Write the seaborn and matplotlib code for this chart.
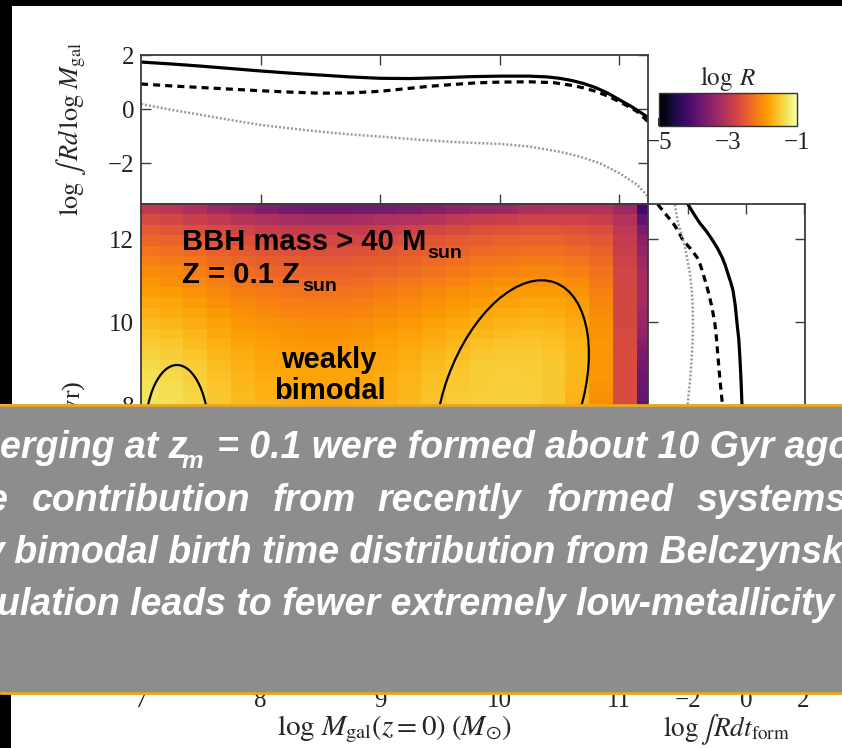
import numpy as np
import matplotlib
matplotlib.use("Agg")
import matplotlib.pyplot as plt
import seaborn as sns
from matplotlib.patches import Rectangle, Ellipse

# ---------------- data ----------------
mass_centers = [7.05, 7.25, 7.45, 7.65, 7.85, 8.05, 8.25, 8.45, 8.65, 8.85, 9.05,
                9.25, 9.45, 9.65, 9.85, 10.05, 10.25, 10.45, 10.65, 10.85, 11.05, 11.25]
tform_centers = [12.725, 12.475, 12.225, 11.975, 11.725, 11.475, 11.225, 10.975, 10.725,
                 10.475, 10.225, 9.975, 9.725, 9.475, 9.225, 8.975, 8.725, 8.475, 8.225,
                 7.975, 7.725]
logR = [
    [-2.95, -3.0, -3.15, -3.3, -3.45, -3.6, -3.7, -3.75, -3.75, -3.75, -3.7, -3.65, -3.55, -3.45, -3.35, -3.3, -3.2, -3.15, -3.1, -3.1, -3.3, -4.2],
    [-2.7, -2.75, -2.85, -2.95, -3.05, -3.15, -3.2, -3.25, -3.25, -3.2, -3.15, -3.1, -3.05, -2.95, -2.9, -2.85, -2.8, -2.8, -2.8, -2.85, -3.1, -3.9],
    [-2.5, -2.55, -2.62, -2.7, -2.78, -2.85, -2.9, -2.92, -2.92, -2.9, -2.85, -2.8, -2.75, -2.68, -2.62, -2.58, -2.55, -2.55, -2.58, -2.65, -2.98, -3.65],
    [-2.35, -2.4, -2.47, -2.55, -2.62, -2.68, -2.72, -2.74, -2.74, -2.72, -2.68, -2.62, -2.56, -2.5, -2.46, -2.42, -2.4, -2.4, -2.44, -2.52, -2.9, -3.5],
    [-2.22, -2.27, -2.34, -2.42, -2.5, -2.55, -2.6, -2.62, -2.62, -2.6, -2.55, -2.5, -2.44, -2.38, -2.33, -2.3, -2.28, -2.28, -2.32, -2.42, -2.85, -3.4],
    [-2.12, -2.16, -2.23, -2.32, -2.4, -2.45, -2.5, -2.52, -2.52, -2.5, -2.45, -2.4, -2.34, -2.28, -2.22, -2.19, -2.17, -2.17, -2.22, -2.34, -2.8, -3.3],
    [-2.02, -2.06, -2.13, -2.22, -2.3, -2.35, -2.4, -2.42, -2.42, -2.4, -2.35, -2.3, -2.24, -2.18, -2.12, -2.08, -2.06, -2.06, -2.12, -2.26, -2.76, -3.25],
    [-1.93, -1.97, -2.04, -2.13, -2.21, -2.26, -2.3, -2.32, -2.32, -2.3, -2.25, -2.2, -2.14, -2.08, -2.02, -1.98, -1.96, -1.96, -2.02, -2.18, -2.74, -3.2],
    [-1.85, -1.89, -1.96, -2.05, -2.13, -2.18, -2.22, -2.24, -2.24, -2.22, -2.17, -2.12, -2.06, -2.0, -1.94, -1.9, -1.88, -1.88, -1.94, -2.12, -2.72, -3.2],
    [-1.77, -1.81, -1.88, -1.97, -2.05, -2.1, -2.14, -2.16, -2.16, -2.14, -2.09, -2.04, -1.98, -1.92, -1.86, -1.82, -1.8, -1.8, -1.87, -2.06, -2.72, -3.25],
    [-1.7, -1.74, -1.81, -1.9, -1.98, -2.03, -2.07, -2.09, -2.09, -2.07, -2.02, -1.97, -1.91, -1.85, -1.79, -1.75, -1.73, -1.74, -1.81, -2.02, -2.72, -3.3],
    [-1.63, -1.67, -1.74, -1.83, -1.91, -1.96, -2.0, -2.02, -2.02, -2.0, -1.95, -1.9, -1.84, -1.78, -1.72, -1.68, -1.66, -1.68, -1.76, -1.98, -2.72, -3.35],
    [-1.56, -1.6, -1.67, -1.77, -1.85, -1.9, -1.94, -1.96, -1.96, -1.94, -1.89, -1.84, -1.78, -1.71, -1.65, -1.61, -1.6, -1.62, -1.71, -1.95, -2.7, -3.45],
    [-1.49, -1.53, -1.61, -1.71, -1.8, -1.85, -1.89, -1.91, -1.91, -1.89, -1.84, -1.78, -1.72, -1.65, -1.59, -1.56, -1.55, -1.58, -1.68, -1.93, -2.68, -3.55],
    [-1.43, -1.47, -1.55, -1.66, -1.75, -1.81, -1.85, -1.87, -1.87, -1.85, -1.8, -1.74, -1.67, -1.6, -1.54, -1.51, -1.51, -1.55, -1.66, -1.92, -2.67, -3.65],
    [-1.38, -1.42, -1.5, -1.61, -1.71, -1.77, -1.81, -1.84, -1.84, -1.82, -1.77, -1.71, -1.63, -1.56, -1.5, -1.48, -1.48, -1.53, -1.65, -1.92, -2.66, -3.72],
    [-1.34, -1.38, -1.46, -1.58, -1.68, -1.74, -1.79, -1.82, -1.82, -1.8, -1.75, -1.68, -1.6, -1.53, -1.48, -1.46, -1.47, -1.52, -1.65, -1.93, -2.66, -3.78],
    [-1.31, -1.35, -1.43, -1.55, -1.66, -1.72, -1.77, -1.8, -1.8, -1.78, -1.73, -1.66, -1.58, -1.51, -1.47, -1.45, -1.46, -1.52, -1.66, -1.95, -2.66, -3.82],
    [-1.29, -1.33, -1.41, -1.53, -1.64, -1.71, -1.76, -1.79, -1.79, -1.77, -1.72, -1.65, -1.57, -1.5, -1.46, -1.45, -1.46, -1.53, -1.68, -1.97, -2.66, -3.86],
    [-1.28, -1.32, -1.4, -1.52, -1.63, -1.7, -1.75, -1.78, -1.78, -1.76, -1.71, -1.64, -1.57, -1.5, -1.46, -1.45, -1.47, -1.54, -1.7, -1.99, -2.66, -3.9],
    [-1.28, -1.32, -1.4, -1.52, -1.63, -1.7, -1.75, -1.78, -1.78, -1.76, -1.71, -1.64, -1.57, -1.5, -1.46, -1.46, -1.48, -1.56, -1.72, -2.0, -2.66, -3.92],
]

# top panel: log int R dlogM_gal vs log M_gal
top_mass_solid = [7.0, 7.25, 7.5, 7.75, 8.0, 8.25, 8.5, 8.75, 9.0, 9.25, 9.5, 9.75, 10.0,
                  10.25, 10.4, 10.5, 10.6, 10.7, 10.8, 10.9, 11.0, 11.1, 11.15, 11.24]
top_solid = [1.74, 1.67, 1.59, 1.50, 1.41, 1.33, 1.26, 1.19, 1.14, 1.13, 1.16, 1.20, 1.22,
             1.22, 1.19, 1.14, 1.06, 0.95, 0.80, 0.60, 0.35, 0.10, -0.04, -0.30]
top_mass_dashed = [7.0, 7.25, 7.5, 7.75, 8.0, 8.25, 8.5, 8.75, 9.0, 9.2, 9.4, 9.6, 9.8,
                   10.0, 10.25, 10.45, 10.6, 10.7, 10.8, 10.9, 11.0, 11.1, 11.15, 11.24]
top_dashed = [0.93, 0.86, 0.80, 0.74, 0.68, 0.63, 0.59, 0.60, 0.66, 0.75, 0.84, 0.91, 0.97,
              1.00, 1.01, 0.98, 0.88, 0.79, 0.66, 0.49, 0.28, 0.04, -0.09, -0.46]
top_mass_dotted = [7.0, 7.25, 7.5, 7.75, 8.0, 8.25, 8.5, 8.75, 9.0, 9.25, 9.5, 9.75, 10.0,
                   10.25, 10.5, 10.67, 10.84, 11.0, 11.15, 11.24]
top_dotted = [0.19, -0.02, -0.21, -0.40, -0.58, -0.71, -0.83, -0.93, -1.01, -1.10, -1.18,
              -1.24, -1.28, -1.38, -1.57, -1.75, -2.00, -2.36, -2.79, -3.22]

# right panel: log int R dt_form vs log t_form
right_t_solid = [12.84, 12.6, 12.39, 12.2, 12.0, 11.8, 11.57, 11.38, 11.18, 10.97, 10.77,
                 10.4, 9.98, 9.6, 9.16, 8.6, 8.05, 7.95]
right_solid = [-2.01, -1.80, -1.60, -1.38, -1.18, -1.00, -0.83, -0.72, -0.63, -0.53, -0.45,
               -0.37, -0.31, -0.25, -0.21, -0.17, -0.14, -0.14]
right_t_dashed = [12.84, 12.6, 12.39, 12.2, 11.98, 11.78, 11.57, 11.38, 11.18, 10.97, 10.77,
                  10.4, 9.98, 9.6, 9.16, 8.6, 8.12, 7.95]
right_dashed = [-3.06, -2.78, -2.53, -2.35, -2.19, -1.93, -1.70, -1.58, -1.49, -1.40, -1.32,
                -1.19, -1.08, -1.02, -0.97, -0.90, -0.83, -0.81]
right_t_dotted = [12.84, 12.6, 12.39, 12.2, 12.0, 11.8, 11.57, 11.2, 10.77, 10.4, 9.98, 9.6,
                  9.16, 8.6, 8.12, 7.95]
right_dotted = [-2.47, -2.41, -2.36, -2.27, -2.19, -2.11, -2.05, -1.95, -1.88, -1.85, -1.84,
                -1.85, -1.88, -1.94, -2.01, -2.03]

mass_ticks = [7, 8, 9, 10, 11]
tform_ticks = [2, 4, 6, 8, 10, 12]
top_ticks = [-2, 0, 2]
right_ticks = [-2, 0, 2]
cbar_ticks = [-5, -3, -1]

box_lines = [
    [("erging at z", 0, 458, 27), ("m", 182, 468, 17.5),
     ("= 0.1 were formed about 10 Gyr ago", 217, 458, 27)],
    [("e", -13, 511, 27), ("contribution", 32, 511, 27), ("from", 273, 511, 27),
     ("recently", 377, 511, 27), ("formed", 547, 511, 27), ("systems", 697, 511, 27)],
    [("y bimodal birth time distribution from Belczynsk", -16, 563, 27)],
    [("ulation leads to fewer extremely low-metallicity", -3, 615, 27)],
]

# ---------------- style ----------------
sns.set_theme(style="ticks")
plt.rcParams['font.family'] = ['Liberation Serif', 'DejaVu Serif']
plt.rcParams['mathtext.fontset'] = 'stix'
plt.rcParams['axes.unicode_minus'] = True

W, H = 842, 748
fig = plt.figure(figsize=(W / 100, H / 100), dpi=100)
fig.patch.set_facecolor('white')


def px_axes(l, t, r, b, **kw):
    return fig.add_axes([l / W, 1 - b / H, (r - l) / W, (b - t) / H], **kw)


ax_top = px_axes(141, 55, 648, 204)
ax_main = px_axes(141, 204, 648, 688)
ax_right = px_axes(648, 204, 805, 688)
cax = px_axes(659, 93, 797, 126)

spine_col = '#3c3c3c'
tick_fs = 18
for ax in (ax_top, ax_main, ax_right):
    ax.set_facecolor('white')
    for s in ax.spines.values():
        s.set_color(spine_col)
        s.set_linewidth(1.3)
    ax.tick_params(direction='in', top=True, right=True, length=7, width=1.0,
                   color=spine_col, labelsize=tick_fs, labelcolor='#222222', pad=5)
    ax.tick_params(axis='x', pad=1.5)

# heatmap
mc = np.array(mass_centers)
tc = np.array(tform_centers)
x_edges = np.append(mc - 0.1, mc[-1] + 0.1)
y_edges = np.append(tc + 0.125, tc[-1] - 0.125)
mesh = ax_main.pcolormesh(x_edges, y_edges, np.array(logR), cmap='inferno',
                          vmin=-5, vmax=-1, shading='flat', rasterized=True)
ax_main.set_xlim(7.0, 11.24)
ax_main.set_ylim(1.2, 12.85)
ax_main.set_xticks(mass_ticks)
ax_main.set_yticks(tform_ticks)
ax_main.set_xlabel(r"$\log\,M_{\rm gal}(z = 0)\;(M_{\odot})$", fontsize=21, labelpad=1)
ax_main.set_ylabel(r"$\log\,t_{\rm form}$ (yr)", fontsize=19)
ax_main.yaxis.set_label_coords(-0.105, 0.5)

# top panel
sns.lineplot(x=top_mass_solid, y=top_solid, ax=ax_top, color='black', lw=2.3,
             estimator=None, sort=False)
sns.lineplot(x=top_mass_dashed, y=top_dashed, ax=ax_top, color='black', lw=2.3,
             linestyle=(0, (2.2, 1.6)), estimator=None, sort=False)
sns.lineplot(x=top_mass_dotted, y=top_dotted, ax=ax_top, color='#9a9a9a', lw=1.8,
             linestyle=(0, (0.8, 0.8)), estimator=None, sort=False)
ax_top.set_xlim(7.0, 11.24)
ax_top.set_ylim(-3.5, 2.0)
ax_top.set_xticks([8, 9, 10, 11])
ax_top.set_yticks(top_ticks)
ax_top.tick_params(labelbottom=False)
ax_top.set_xlabel("")
ax_top.set_ylabel(r"$\log\,\int\,Rd\,\log\,M_{\rm gal}$", fontsize=19)
ax_top.yaxis.set_label_coords(-0.105, 0.5)

# right panel
sns.lineplot(x=right_solid, y=right_t_solid, ax=ax_right, color='black', lw=2.3,
             orient='y', estimator=None, sort=False)
sns.lineplot(x=right_dashed, y=right_t_dashed, ax=ax_right, color='black', lw=2.3,
             linestyle=(0, (2.2, 1.6)), orient='y', estimator=None, sort=False)
sns.lineplot(x=right_dotted, y=right_t_dotted, ax=ax_right, color='#9a9a9a', lw=1.8,
             linestyle=(0, (0.8, 0.8)), orient='y', estimator=None, sort=False)
ax_right.set_xlim(-3.4, 2.05)
ax_right.set_ylim(1.2, 12.85)
ax_right.set_xticks(right_ticks)
ax_right.set_yticks(tform_ticks)
ax_right.tick_params(labelleft=False)
ax_right.set_ylabel("")
ax_right.set_xlabel(r"$\log\int R dt_{\rm form}$", fontsize=19.5, labelpad=0)

# colorbar
cb = fig.colorbar(mesh, cax=cax, orientation='horizontal', ticks=cbar_ticks)
cb.outline.set_linewidth(1.0)
cb.outline.set_edgecolor('#333333')
cax.tick_params(direction='in', length=6, width=1.5, labelsize=tick_fs, color='#333333',
                labelcolor='#222222', pad=4)
cax.set_title(r"$\log\;R$", fontsize=18, pad=4)

# ---------------- annotation layer ----------------
ann = fig.add_axes([0, 0, 1, 1], zorder=5)
ann.set_xlim(0, W)
ann.set_ylim(0, H)
ann.axis('off')
ann.patch.set_alpha(0)

ann.add_patch(Ellipse((512, H - 400), 136, 250, angle=-20, fill=False, ec='black', lw=1.6))
ann.add_patch(Ellipse((177, H - 435), 64, 140, angle=0, fill=False, ec='black', lw=1.6))

sans = dict(family=['Liberation Sans', 'DejaVu Sans'], weight='bold', color='black',
            va='baseline')
ann.text(182, H - 250, "BBH mass > 40 M", fontsize=21, ha='left', **sans)
ann.text(427, H - 258, "sun", fontsize=14, ha='left', **sans)
ann.text(182, H - 283, "Z = 0.1 Z", fontsize=21, ha='left', **sans)
ann.text(302, H - 291, "sun", fontsize=14, ha='left', **sans)
ann.text(329, H - 368, "weakly", fontsize=21, ha='center', **sans)
ann.text(330, H - 399, "bimodal", fontsize=21, ha='center', **sans)

# ---------------- slide overlay layer ----------------
ov = fig.add_axes([0, 0, 1, 1], zorder=10)
ov.set_xlim(0, W)
ov.set_ylim(0, H)
ov.axis('off')
ov.patch.set_alpha(0)

ov.add_patch(Rectangle((0, H - 693), W, 693 - 405, fc='#8d8d8d', ec='none'))
ov.plot([0, W], [H - 405, H - 405], color='#e8a623', lw=2, solid_capstyle='butt')
ov.plot([0, W], [H - 693, H - 693], color='#e8a623', lw=2, solid_capstyle='butt')
ov.add_patch(Rectangle((0, H - 5.5), W, 5.5, fc='black', ec='none'))
ov.add_patch(Rectangle((0, H - 404), 12, 404, fc='black', ec='none'))
ov.add_patch(Rectangle((0, 0), 11, H - 694, fc='black', ec='none'))

for line in box_lines:
    for txt, x, y, fs in line:
        ov.text(x, H - y, txt, fontsize=fs, color='white', ha='left', va='baseline',
                family=['Liberation Sans', 'DejaVu Sans'], weight='bold', style='italic',
                clip_on=False)

fig.savefig("out.png", dpi=100, facecolor='white')
